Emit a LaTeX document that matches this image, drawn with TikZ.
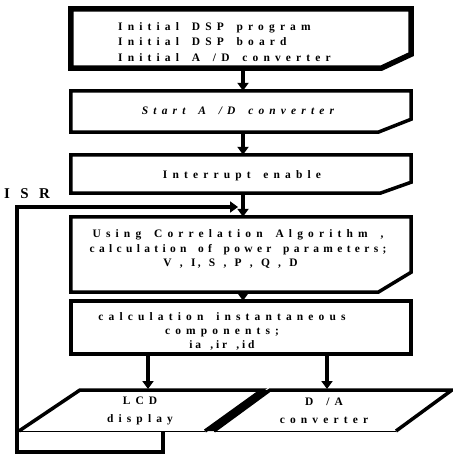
\documentclass[tikz,border=0pt]{standalone}
\usepackage{fontspec}
\setmainfont{Liberation Serif}
\newfontfamily\flowfont[LetterSpace=45,WordSpace=1.6]{Liberation Serif}
\newfontfamily\isrfont[LetterSpace=70]{Liberation Serif}
\usetikzlibrary{arrows.meta}
\begin{document}
\begin{tikzpicture}[x=1bp,y=-1bp,
  flow/.style={font=\flowfont\bfseries\fontsize{11.5}{15.5}\selectfont, inner sep=0, align=center},
  blank/.style={inner sep=0, minimum width=340bp},
  frame/.style={line width=3.5bp, line join=miter},
  flowarrow/.style={line width=3.5bp, -{Triangle[width=11bp,length=8bp]}}]
  \useasboundingbox (0,0) rectangle (453,456);
  % boxes
  \node[blank, minimum height=59bp] (init) at (241,38.5) {};
  \node[blank, minimum height=41bp] (start) at (241,111.5) {};
  \node[blank, minimum height=38bp] (intr) at (241,174) {};
  \node[blank, minimum height=75bp] (corr) at (241,254.5) {};
  \node[blank, minimum height=53bp] (inst) at (241,327.5) {};
  \draw[frame, line width=5.5bp] (init.north west) -- (init.north east) -- ([yshift=14bp]init.south east) -- ([xshift=-30bp]init.south east) -- (init.south west) -- cycle;
  \draw[frame] (start.north west) -- (start.north east) -- ([yshift=13bp]start.south east) -- ([xshift=-33bp]start.south east) -- (start.south west) -- cycle;
  \draw[frame] (intr.north west) -- (intr.north east) -- ([yshift=11bp]intr.south east) -- ([xshift=-31bp]intr.south east) -- (intr.south west) -- cycle;
  \draw[frame] (corr.north west) -- (corr.north east) -- ([yshift=20bp]corr.south east) -- ([xshift=-33bp]corr.south east) -- (corr.south west) -- cycle;
  \draw[frame] (inst.north west) rectangle (inst.south east);
  % texts
  \node[flow, align=left, anchor=west] (initT) at (118,42) {Initial DSP program\\Initial DSP board\\Initial A /D converter};
  \node[flow, font=\flowfont\bfseries\itshape\fontsize{11.5}{15}\selectfont] (startT) at (238,111) {Start A /D converter};
  \node[flow] (intrT) at (242,176) {Interrupt enable};
  \node[flow, font=\flowfont\bfseries\fontsize{11.5}{15}\selectfont] (corrT) at (238,249) {Using Correlation Algorithm ,\\{\addfontfeature{LetterSpace=38}calculation of power parameters;}\\{\addfontfeature{LetterSpace=20}V , I, S , P , Q , D}\hspace*{15bp}};
  \node[flow, font=\flowfont\bfseries\fontsize{11.5}{14}\selectfont] (instT) at (222,331) {calculation instantaneous\\components;\\{\addfontfeature{LetterSpace=25}ia ,ir ,id}};
  % output blocks
  \fill (262,390) -- (270,390) -- (214,431) -- (205,431) -- cycle;
  \draw[frame] (19,431) -- (80,390) -- (262,390) -- (205,431);
  \draw[frame] (214,431) -- (270,390) -- (452,390) -- (396,431);
  \draw[line width=1bp] (205,431) -- (19,431);
  \draw[line width=1bp] (396,431) -- (214,431);
  \node[flow, font=\flowfont\bfseries\fontsize{11.5}{18}\selectfont] (lcd) at (140,411) {LCD\\display};
  \node[flow, font=\flowfont\bfseries\fontsize{11.5}{18}\selectfont] (da) at (324,411) {D /A\\converter};
  \coordinate (lcdtop) at (148,389);
  \coordinate (datop) at (327,389);
  \coordinate (lcdbot) at (163,431);
  \coordinate (isr) at (238,207);
  % flow
  \draw[flowarrow] ([xshift=2bp]init.south) -- ([xshift=2bp]start.north);
  \draw[flowarrow] ([xshift=2bp]start.south) -- ([xshift=2bp]intr.north);
  \draw[flowarrow] ([xshift=2bp]intr.south) -- ([xshift=2bp]corr.north);
  \draw[flowarrow] ([xshift=2bp]corr.south) -- ([xshift=2bp]inst.north);
  \draw[flowarrow] (inst.south -| lcdtop) -- (lcdtop);
  \draw[flowarrow] (inst.south -| datop) -- (datop);
  % interrupt loop
  \node[font=\isrfont\bfseries\fontsize{15}{15}\selectfont, inner sep=0, anchor=west] (isrT) at (4,194) {ISR};
  \draw[flowarrow, line join=miter] (lcdbot) -- (163,452) -- (17,452) -- (17,207) -- (isr);
\end{tikzpicture}
\end{document}
